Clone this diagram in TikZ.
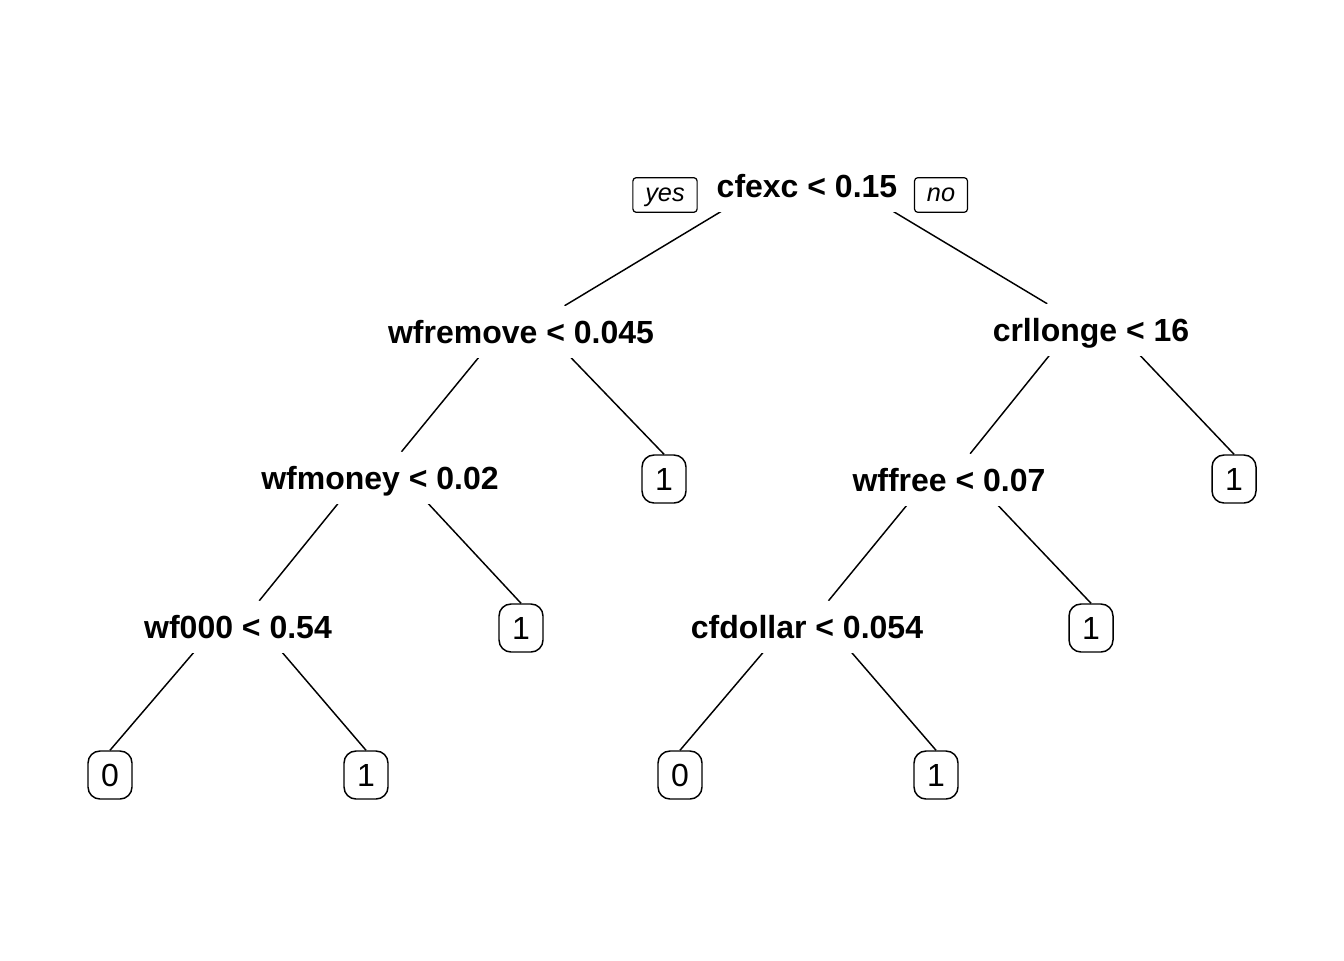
\documentclass[tikz,border=0pt]{standalone}
\usepackage{fontspec}
\setmainfont{Liberation Sans}
\usetikzlibrary{backgrounds}

\begin{document}
\begin{tikzpicture}[
      x=0.75pt, y=-0.75pt,
      split/.style={font=\fontsize{24pt}{28pt}\selectfont\bfseries, fill=white,
        inner sep=0pt, text height=17.2pt, text depth=0pt, minimum height=39pt},
      leaf/.style={draw, line width=1.1pt, rounded corners=9pt, fill=white,
        font=\fontsize{24pt}{28pt}\selectfont, inner sep=0pt, text height=17.2pt,
        text depth=0pt, minimum width=33pt, minimum height=36pt},
      answer/.style={draw, line width=0.9pt, rounded corners=2.5pt,
        font=\fontsize{19pt}{22pt}\selectfont\itshape, inner xsep=9.3pt, inner ysep=0pt,
        text height=9.9pt, text depth=0pt, minimum height=26pt},
      branch/.style={draw, line width=1.1pt, shorten <=3pt}
    ]
    \useasboundingbox (0,0) rectangle (1344,960);

    % Root split
    \node[split] (root) at (807,186) {cfexc < 0.15};
    \node[answer] (yes) at (665,195) {yes};
    \node[answer] (no) at (941,195) {no};

    % Second level
    \node[split] (wfremove) at (521,332) {wfremove < 0.045};
    \node[split] (crllonge) at (1091,330) {crllonge < 16};

    % Third level
    \node[split] (wfmoney) at (380,478) {wfmoney < 0.02};
    \node[leaf] (leafa) at (664,479) {1};
    \node[split] (wffree) at (949,480) {wffree < 0.07};
    \node[leaf] (leafb) at (1234,479) {1};

    % Fourth level
    \node[split] (wf000) at (238,627) {wf000 < 0.54};
    \node[leaf] (leafc) at (521,628) {1};
    \node[split] (cfdollar) at (807,627) {cfdollar < 0.054};
    \node[leaf] (leafd) at (1091,628) {1};

    % Bottom leaves
    \node[leaf] (leafe) at (110,775) {0};
    \node[leaf] (leaff) at (366,775) {1};
    \node[leaf] (leafg) at (680,775) {0};
    \node[leaf] (leafh) at (936,775) {1};

    % Branches behind the labels
    \begin{pgfonlayer}{background}
      \foreach \p/\c in {root/wfremove, root/crllonge, wfremove/wfmoney,
          crllonge/wffree, wfmoney/wf000, wffree/cfdollar}
        \draw[branch] (\p.north) -- (\c);
      \foreach \p/\c in {wfremove/leafa, crllonge/leafb, wfmoney/leafc,
          wffree/leafd, wf000/leafe, wf000/leaff, cfdollar/leafg, cfdollar/leafh}
        \draw[branch] (\p.north) -- (\c.north);
    \end{pgfonlayer}

\end{tikzpicture}
\end{document}
